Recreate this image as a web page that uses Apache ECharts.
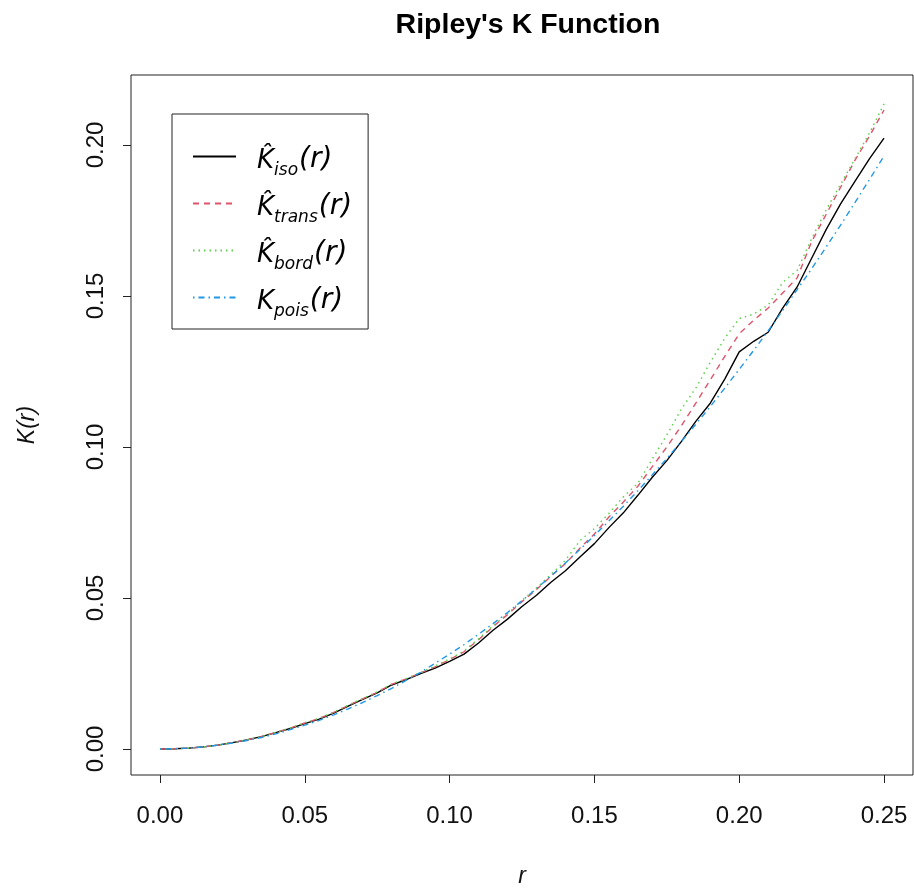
<!DOCTYPE html>
<html>
<head>
<meta charset="utf-8">
<script src="https://cdn.jsdelivr.net/npm/echarts@6/dist/echarts.min.js"></script>
<style>html,body{margin:0;padding:0;background:#fff;}#c{width:914px;height:888px;}</style>
</head>
<body>
<div id="c"></div>
<script>
// distance r
const rVals = [0,0.005,0.01,0.015,0.02,0.025,0.03,0.035,0.04,0.045,0.05,0.055,0.06,0.065,0.07,0.075,0.08,0.085,0.09,0.095,0.10,0.105,0.11,0.115,0.12,0.125,0.13,0.135,0.14,0.145,0.15,0.155,0.16,0.165,0.17,0.175,0.18,0.185,0.19,0.195,0.20,0.205,0.21,0.215,0.22,0.225,0.23,0.235,0.24,0.245,0.25];
// K_iso (black solid)
const kIso = [0,0.0001,0.0003,0.0007,0.0013,0.0021,0.0030,0.0041,0.0054,0.0068,0.0084,0.0099,0.0119,0.0142,0.0164,0.0186,0.0212,0.0230,0.0250,0.0268,0.0290,0.0314,0.0351,0.0393,0.0430,0.0472,0.0509,0.0552,0.0590,0.0636,0.0680,0.0733,0.0782,0.0840,0.0900,0.0955,0.1018,0.1085,0.1145,0.1225,0.1315,0.1350,0.1380,0.1460,0.1530,0.1625,0.1720,0.1805,0.1880,0.1955,0.2023];
// K_trans (red dashed)
const kTrans = [0,0.0001,0.0003,0.0007,0.0013,0.0021,0.0030,0.0041,0.0055,0.0069,0.0086,0.0101,0.0121,0.0144,0.0166,0.0188,0.0214,0.0232,0.0252,0.0272,0.0296,0.0322,0.0362,0.0405,0.0445,0.0488,0.0528,0.0572,0.0614,0.0665,0.0712,0.0768,0.0818,0.0870,0.0935,0.1000,0.1070,0.1145,0.1222,0.1300,0.1375,0.1420,0.1460,0.1510,0.1560,0.1680,0.1770,0.1860,0.1950,0.2030,0.2116];
// K_bord (green dotted)
const kBord = [0,0.0001,0.0003,0.0007,0.0013,0.0021,0.0030,0.0041,0.0055,0.0070,0.0087,0.0102,0.0122,0.0145,0.0167,0.0189,0.0215,0.0233,0.0253,0.0275,0.0298,0.0325,0.0365,0.0408,0.0448,0.0492,0.0533,0.0578,0.0625,0.0690,0.0730,0.0780,0.0835,0.0880,0.0960,0.1040,0.1125,0.1195,0.1280,0.1360,0.1425,0.1440,0.1470,0.1545,0.1585,0.1690,0.1785,0.1870,0.1955,0.2040,0.2136];
// K_pois (blue dot-dash)
const kPois = [0,0.0001,0.0003,0.0007,0.0013,0.0020,0.0028,0.0038,0.0050,0.0064,0.0079,0.0095,0.0113,0.0133,0.0154,0.0177,0.0201,0.0227,0.0254,0.0284,0.0314,0.0346,0.0380,0.0415,0.0452,0.0491,0.0531,0.0573,0.0616,0.0661,0.0707,0.0755,0.0804,0.0855,0.0908,0.0962,0.1018,0.1075,0.1134,0.1195,0.1257,0.1320,0.1385,0.1452,0.1521,0.1590,0.1662,0.1735,0.1810,0.1886,0.1964];
const xTicks = [0,0.05,0.10,0.15,0.20,0.25];
const yTicks = [0,0.05,0.10,0.15,0.20];
const seriesNames = ['iso','trans','bord','pois'];

const chart = echarts.init(document.getElementById('c'));
const pairs = arr => rVals.map((r,i)=>[r, arr[i]]);
const fontF = '"Liberation Sans", Arial, sans-serif';
const legendFont = '"DejaVu Sans", sans-serif';

chart.setOption({
  animation: false,
  backgroundColor: '#ffffff',
  title: {
    text: "Ripley's K Function",
    left: 523, top: 6, textAlign: 'center',
    textStyle: {fontFamily: fontF, fontWeight: 'bold', fontSize: 28.5, color: '#000'}
  },
  grid: {left: 131, top: 75, width: 782, height: 700, show: true, borderColor: '#222', borderWidth: 1,
    containLabel: false, outerBoundsMode: 'none'},
  xAxis: {
    type: 'value', min: -0.01, max: 0.26,
    axisLine: {show: false, onZero: false},
    splitLine: {show: false},
    axisTick: {show: true, length: 8, customValues: xTicks, lineStyle: {color: '#222'}},
    axisLabel: {show: true, customValues: xTicks, margin: 29, fontFamily: fontF, fontSize: 24, color: '#111',
      formatter: v => v.toFixed(2)},
    name: 'r', nameLocation: 'middle', nameGap: 102,
    nameTextStyle: {fontFamily: fontF, fontStyle: 'italic', fontSize: 23, color: '#111', verticalAlign: 'middle', align: 'center'}
  },
  yAxis: {
    type: 'value', min: -0.00861, max: 0.22318,
    axisLine: {show: false, onZero: false},
    splitLine: {show: false},
    axisTick: {show: true, length: 8, customValues: yTicks, lineStyle: {color: '#222'}},
    axisLabel: {show: true, customValues: yTicks, rotate: 90, margin: 23, fontFamily: fontF, fontSize: 24, color: '#111',
      formatter: v => v.toFixed(2)},
    name: 'K(r)', nameLocation: 'middle', nameGap: 103, nameRotate: 90,
    nameTextStyle: {fontFamily: fontF, fontStyle: 'italic', fontSize: 23, color: '#111', verticalAlign: 'middle', align: 'center'}
  },
  legend: {
    orient: 'vertical', left: 172, top: 114,
    padding: [32, 16, 9, 20],
    itemGap: 14,
    itemWidth: 43, itemHeight: 14,
    borderColor: '#222', borderWidth: 1,
    backgroundColor: '#fff',
    itemStyle: {color: 'rgba(0,0,0,0)', borderWidth: 0, opacity: 0},
    data: seriesNames,
    formatter: function(name){
      if (name === 'pois') return '{k|K}{s|pois}{p|(r)}';
      return '{k|K\u0302}{s|' + name + '}{p|(r)}';
    },
    textStyle: {
      fontFamily: legendFont, color: '#000',
      rich: {
        k: {fontFamily: legendFont, fontStyle: 'italic', fontSize: 26, lineHeight: 35, verticalAlign: 'bottom', padding: [0,0,0,16], color: '#000'},
        s: {fontFamily: legendFont, fontStyle: 'italic', fontSize: 17, lineHeight: 17, verticalAlign: 'bottom', padding: [0,1,-5,0], color: '#000'},
        p: {fontFamily: legendFont, fontStyle: 'italic', fontSize: 28, lineHeight: 35, verticalAlign: 'bottom', color: '#000'}
      }
    }
  },
  series: [
    {name: 'iso', type: 'line', data: pairs(kIso), showSymbol: false, symbol: 'none', color: '#000000',
      lineStyle: {color: '#000000', width: 1.4, type: 'solid'}},
    {name: 'trans', type: 'line', data: pairs(kTrans), showSymbol: false, symbol: 'none', color: '#DF536B',
      lineStyle: {color: '#DF536B', width: 1.4, type: [6,5]}},
    {name: 'bord', type: 'line', data: pairs(kBord), showSymbol: false, symbol: 'none', color: '#61D04F',
      lineStyle: {color: '#61D04F', width: 1.5, type: [1.5,4]}},
    {name: 'pois', type: 'line', data: pairs(kPois), showSymbol: false, symbol: 'none', color: '#2297E6',
      lineStyle: {color: '#2297E6', width: 1.4, type: [1.5,4,6,4]}}
  ]
});
</script>
</body>
</html>
